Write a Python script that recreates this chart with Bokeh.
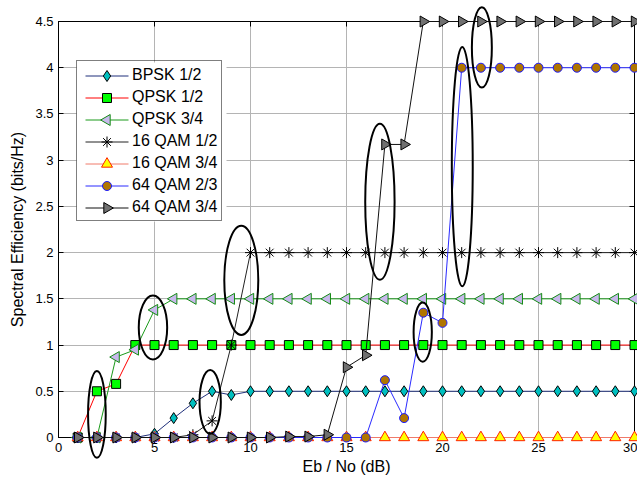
import numpy as np
from bokeh.plotting import figure
from bokeh.models import LinearAxis, FixedTicker, Legend, LegendItem
from bokeh.embed import file_html
from bokeh.resources import INLINE

# ---- data ----
ebno = [1, 2, 3, 4, 5, 6, 7, 8, 9, 10, 11, 12, 13, 14, 15,
        16, 17, 18, 19, 20, 21, 22, 23, 24, 25, 26, 27, 28, 29, 30]
bpsk_12 = [0, 0, 0, 0, 0.04, 0.21, 0.37, 0.5, 0.46, 0.5,
           0.5, 0.5, 0.5, 0.5, 0.5, 0.5, 0.5, 0.5, 0.5, 0.5,
           0.5, 0.5, 0.5, 0.5, 0.5, 0.5, 0.5, 0.5, 0.5, 0.5]
qpsk_12 = [0, 0.5, 0.58, 1, 1, 1, 1, 1, 1, 1,
           1, 1, 1, 1, 1, 1, 1, 1, 1, 1,
           1, 1, 1, 1, 1, 1, 1, 1, 1, 1]
qpsk_34 = [0, 0, 0.87, 0.95, 1.38, 1.5, 1.5, 1.5, 1.5, 1.5,
           1.5, 1.5, 1.5, 1.5, 1.5, 1.5, 1.5, 1.5, 1.5, 1.5,
           1.5, 1.5, 1.5, 1.5, 1.5, 1.5, 1.5, 1.5, 1.5, 1.5]
qam16_12 = [0, 0, 0, 0, 0, 0, 0.03, 0.18, 1, 2,
            2, 2, 2, 2, 2, 2, 2, 2, 2, 2,
            2, 2, 2, 2, 2, 2, 2, 2, 2, 2]
qam16_34 = [0, 0, 0, 0, 0, 0, 0, 0, 0, 0,
            0, 0, 0, 0, 0, 0, 0, 0, 0, 0,
            0, 0, 0, 0, 0, 0, 0, 0, 0, 0]
qam64_23 = [0, 0, 0, 0, 0, 0, 0, 0, 0, 0,
            0, 0, 0, 0, 0, 0, 0.62, 0.21, 1.35, 1.24,
            4, 4, 4, 4, 4, 4, 4, 4, 4, 4]
qam64_34 = [0, 0, 0, 0, 0, 0, 0, 0, 0, 0,
            0, 0.01, 0.01, 0.03, 0.76, 0.89, 3.17, 3.17, 4.5, 4.5,
            4.5, 4.5, 4.5, 4.5, 4.5, 4.5, 4.5, 4.5, 4.5, 4.5]
series_names = ["BPSK 1/2", "QPSK 1/2", "QPSK 3/4", "16 QAM 1/2",
                "16 QAM 3/4", "64 QAM 2/3", "64 QAM 3/4"]
x_ticks = [0, 5, 10, 15, 20, 25, 30]
y_ticks = [0, 0.5, 1, 1.5, 2, 2.5, 3, 3.5, 4, 4.5]

# highlight ellipses (centre x, centre y, width, height) in data units
ell_cx = [2.0, 4.92, 7.9, 9.52, 16.74, 18.97, 21.03, 22.05]
ell_cy = [0.25, 1.19, 0.385, 1.70, 2.55, 1.14, 2.93, 4.22]
ell_w = [0.92, 1.48, 1.11, 1.77, 1.53, 0.95, 1.09, 1.04]
ell_h = [0.94, 0.69, 0.69, 1.18, 1.69, 0.64, 2.59, 0.87]

FONT = "Liberation Sans"
X0, X1, Y0, Y1 = 0, 30, 0, 4.5
BL, BR, BT, BB, W, H = 58, 3, 21, 44, 637, 481
FW, FH = W - BL - BR, H - BT - BB


def px_to_x(px):
    return X0 + (px - BL) / FW * (X1 - X0)


def py_to_y(py):
    return Y1 - (py - BT) / FH * (Y1 - Y0)


p = figure(width=W, height=H, x_range=(X0, X1), y_range=(Y0, Y1),
           output_backend="svg", toolbar_location=None,
           min_border_left=BL, min_border_right=BR, min_border_top=BT,
           min_border_bottom=BB)
p.background_fill_color = "white"
p.border_fill_color = "white"
p.outline_line_color = "black"
p.outline_line_width = 1

for ax in (p.xaxis[0], p.yaxis[0]):
    ax.major_tick_in = 5
    ax.major_tick_out = 0
    ax.minor_tick_line_color = None
    ax.axis_line_color = "black"
    ax.major_tick_line_color = "black"
    ax.major_label_text_font = FONT
    ax.major_label_text_font_size = "13px"
    ax.major_label_text_color = "black"
    ax.axis_label_text_font = FONT
    ax.axis_label_text_font_size = "16px"
    ax.axis_label_text_font_style = "normal"
    ax.axis_label_text_color = "black"

p.xaxis[0].ticker = FixedTicker(ticks=x_ticks)
p.yaxis[0].ticker = FixedTicker(ticks=y_ticks)
p.yaxis[0].major_label_overrides = {0: "0", 1: "1", 2: "2", 3: "3", 4: "4"}
p.xaxis[0].axis_label = "Eb / No (dB)"
p.yaxis[0].axis_label = "Spectral Efficiency (bits/Hz)"
p.xaxis[0].major_label_standoff = 5
p.yaxis[0].major_label_standoff = 5
p.xaxis[0].axis_label_standoff = 3
p.yaxis[0].axis_label_standoff = 6

for loc, tk in (("above", x_ticks), ("right", y_ticks)):
    ax = LinearAxis(ticker=FixedTicker(ticks=tk), major_tick_in=5, major_tick_out=0,
                    minor_tick_line_color=None, major_label_text_font_size="13px",
                    major_label_overrides={t: "" for t in tk},
                    major_label_standoff=0, axis_line_color="black")
    p.add_layout(ax, loc)

p.xgrid.ticker = FixedTicker(ticks=x_ticks)
p.ygrid.ticker = FixedTicker(ticks=y_ticks)
p.grid.grid_line_color = "#b4b4b4"
p.grid.grid_line_width = 1

styles = [
    dict(line="#1f2f7a", marker="diamond", fill="#00c0c0", edge="black", size=11, angle=0.0),
    dict(line="#ff0000", marker="square", fill="#00ff00", edge="black", size=9, angle=0.0),
    dict(line="#1a9a1a", marker="triangle", fill="#c8b8ec", edge="#138a13", size=11, angle=np.pi / 2),
    dict(line="#222222", marker="asterisk", fill="black", edge="black", size=11, angle=0.0),
    dict(line="#f07a6a", marker="triangle", fill="#ffff00", edge="#ff2000", size=11, angle=0.0),
    dict(line="#2a2aff", marker="circle", fill="#b07500", edge="#1a1aff", size=9, angle=0.0),
    dict(line="#111111", marker="triangle", fill="#707070", edge="black", size=11, angle=-np.pi / 2),
]
all_series = [bpsk_12, qpsk_12, qpsk_34, qam16_12, qam16_34, qam64_23, qam64_34]

# legend geometry (screen pixels)
LEG_X, LEG_Y, PAD, GW, GH, SP = 18, 216, 4, 46, 19, 3
n = len(series_names)
leg_h = 2 * PAD + n * GH + (n - 1) * SP
leg_w = 150
leg_left_px = BL + LEG_X
leg_top_px = BT + FH - LEG_Y - leg_h

# white legend background (covers the grid), under the series
p.quad(left=[px_to_x(leg_left_px)], right=[px_to_x(leg_left_px + leg_w)],
       top=[py_to_y(leg_top_px)], bottom=[py_to_y(leg_top_px + leg_h)],
       fill_color="white", line_color=None, level="glyph")

items = []
for name, ys, st in zip(series_names, all_series, styles):
    p.line(ebno, ys, line_color=st["line"], line_width=1, level="annotation")
    p.scatter(ebno, ys, marker=st["marker"], size=st["size"],
              fill_color=st["fill"], line_color=st["edge"], line_width=1,
              angle=st["angle"], level="annotation")
    ghost = p.line(ebno, ys, line_alpha=0, level="glyph")
    items.append(LegendItem(label=name, renderers=[ghost]))

# legend sample lines and markers
gl_x0, gl_x1 = leg_left_px + 9, leg_left_px + 52
gy = [leg_top_px + PAD + GH / 2 + i * (GH + SP) for i in range(n)]
p.segment(x0=[px_to_x(gl_x0)] * n, x1=[px_to_x(gl_x1)] * n,
          y0=[py_to_y(v) for v in gy], y1=[py_to_y(v) for v in gy],
          line_color=[st["line"] for st in styles], line_width=1, level="annotation")
p.scatter(x=[px_to_x((gl_x0 + gl_x1) / 2)] * n, y=[py_to_y(v) for v in gy],
          marker=[st["marker"] for st in styles],
          size=[st["size"] for st in styles],
          fill_color=[st["fill"] for st in styles],
          line_color=[st["edge"] for st in styles],
          angle=[st["angle"] for st in styles],
          line_width=1, level="annotation")

legend = Legend(items=items, location=(LEG_X, LEG_Y))
legend.label_text_font = FONT
legend.label_text_font_size = "16px"
legend.label_text_color = "black"
legend.border_line_color = "black"
legend.border_line_width = 1
legend.background_fill_alpha = 0
legend.glyph_width = GW
legend.glyph_height = GH
legend.label_height = GH
legend.spacing = SP
legend.padding = PAD
legend.margin = 0
legend.label_standoff = 5
p.add_layout(legend, "center")

# ellipses (drawn unclipped, like figure annotations)
p.ellipse(x=ell_cx, y=ell_cy, width=ell_w, height=ell_h, fill_color=None,
          line_color="black", line_width=2, level="overlay")

open("out.html", "w").write(file_html(p, INLINE))
